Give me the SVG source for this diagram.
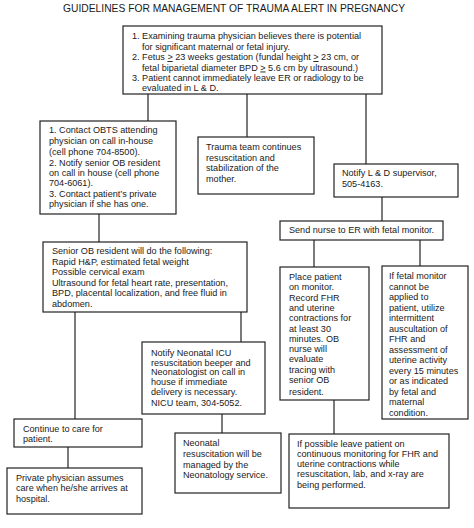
<svg xmlns="http://www.w3.org/2000/svg" width="474" height="528" viewBox="0 0 474 528">
<style>
.b{fill:#fff;stroke:#222;stroke-width:1.2}
.c{stroke:#222;stroke-width:1.2;fill:none}
text{font-family:"Liberation Sans",Arial,sans-serif;font-size:9.1px;fill:#1a1a1a}
.t{font-size:11px}
</style>
<rect width="474" height="528" fill="#fff"/>
<text class="t" x="63" y="12" textLength="342" lengthAdjust="spacingAndGlyphs">GUIDELINES FOR MANAGEMENT OF TRAUMA ALERT IN PREGNANCY</text>
<g id="connectors">
<line class="c" x1="148" y1="94" x2="148" y2="121"/>
<line class="c" x1="247" y1="94" x2="247" y2="137"/>
<line class="c" x1="366" y1="94" x2="366" y2="164"/>
<line class="c" x1="99" y1="214" x2="99" y2="242"/>
<line class="c" x1="382" y1="197" x2="382" y2="221"/>
<line class="c" x1="75" y1="312" x2="75" y2="419"/>
<line class="c" x1="241" y1="312" x2="241" y2="342"/>
<line class="c" x1="314" y1="240" x2="314" y2="267"/>
<line class="c" x1="420" y1="240" x2="420" y2="266"/>
<line class="c" x1="222" y1="414" x2="222" y2="433"/>
<line class="c" x1="68" y1="447" x2="68" y2="468"/>
<line class="c" x1="334" y1="400" x2="334" y2="434"/>
</g>
<g id="n1">
<rect class="b" x="123" y="26" width="259" height="68"/>
<text x="132" y="39">1. Examining trauma physician believes there is potential</text>
<text x="142" y="49.5">for significant maternal or fetal injury.</text>
<text x="132" y="60">2. Fetus <tspan text-decoration="underline">&gt;</tspan> 23 weeks gestation (fundal height <tspan text-decoration="underline">&gt;</tspan> 23 cm, or</text>
<text x="142" y="70.5">fetal biparietal diameter BPD <tspan text-decoration="underline">&gt;</tspan> 5.6 cm by ultrasound.)</text>
<text x="132" y="81">3. Patient cannot immediately leave ER or radiology to be</text>
<text x="142" y="91">evaluated in L &amp; D.</text>
</g>
<g id="n2">
<rect class="b" x="40" y="121" width="136" height="93"/>
<text x="49" y="133">1. Contact OBTS attending</text>
<text x="49" y="144">physician on call in-house</text>
<text x="49" y="155">(cell phone 704-8500).</text>
<text x="49" y="166">2. Notify senior OB resident</text>
<text x="49" y="176">on call in house (cell phone</text>
<text x="49" y="186">704-6061).</text>
<text x="49" y="196.5">3. Contact patient’s private</text>
<text x="49" y="206.5">physician if she has one.</text>
</g>
<g id="n3">
<rect class="b" x="198" y="137" width="116" height="57"/>
<text x="206" y="150">Trauma team continues</text>
<text x="206" y="160.5">resuscitation and</text>
<text x="206" y="171">stabilization of the</text>
<text x="206" y="181.5">mother.</text>
</g>
<g id="n4">
<rect class="b" x="334" y="164" width="124" height="33"/>
<text x="342" y="176">Notify L &amp; D supervisor,</text>
<text x="342" y="186.5">505-4163.</text>
</g>
<g id="n5">
<rect class="b" x="280" y="221" width="163" height="19"/>
<text x="289" y="233">Send nurse to ER with fetal monitor.</text>
</g>
<g id="n6">
<rect class="b" x="43" y="242" width="204" height="70"/>
<text x="52" y="254">Senior OB resident will do the following:</text>
<text x="52" y="264.5">Rapid H&amp;P, estimated fetal weight</text>
<text x="52" y="275">Possible cervical exam</text>
<text x="52" y="285.5">Ultrasound for fetal heart rate, presentation,</text>
<text x="52" y="296">BPD, placental localization, and free fluid in</text>
<text x="52" y="306.5">abdomen.</text>
</g>
<g id="n7">
<rect class="b" x="280" y="267" width="89" height="133"/>
<text x="289" y="280">Place patient</text>
<text x="289" y="290.3">on monitor.</text>
<text x="289" y="300.6">Record FHR</text>
<text x="289" y="310.9">and uterine</text>
<text x="289" y="321.2">contractions for</text>
<text x="289" y="331.5">at least 30</text>
<text x="289" y="341.8">minutes. OB</text>
<text x="289" y="352.1">nurse will</text>
<text x="289" y="362.4">evaluate</text>
<text x="289" y="372.7">tracing with</text>
<text x="289" y="383">senior OB</text>
<text x="289" y="395">resident.</text>
</g>
<g id="n8">
<rect class="b" x="382" y="266" width="86" height="153"/>
<text x="389" y="279">If fetal monitor</text>
<text x="389" y="289.5">cannot be</text>
<text x="389" y="300">applied to</text>
<text x="389" y="310.5">patient, utilize</text>
<text x="389" y="321">intermittent</text>
<text x="389" y="331.5">auscultation of</text>
<text x="389" y="342">FHR and</text>
<text x="389" y="352.5">assessment of</text>
<text x="389" y="363">uterine activity</text>
<text x="389" y="373.5">every 15 minutes</text>
<text x="389" y="384">or as indicated</text>
<text x="389" y="394.5">by fetal and</text>
<text x="389" y="405">maternal</text>
<text x="389" y="415.5">condition.</text>
</g>
<g id="n9">
<rect class="b" x="142" y="342" width="123" height="72"/>
<text x="151" y="356">Notify Neonatal ICU</text>
<text x="151" y="365.7">resuscitation beeper and</text>
<text x="151" y="375.4">Neonatologist on call in</text>
<text x="151" y="385.1">house if immediate</text>
<text x="151" y="394.8">delivery is necessary.</text>
<text x="151" y="405.5">NICU team, 304-5052.</text>
</g>
<g id="n10">
<rect class="b" x="14" y="419" width="128" height="28"/>
<text x="23" y="432">Continue to care for</text>
<text x="23" y="441.5">patient.</text>
</g>
<g id="n11">
<rect class="b" x="7" y="468" width="135" height="46"/>
<text x="16" y="481">Private physician assumes</text>
<text x="16" y="491">care when he/she arrives at</text>
<text x="16" y="501.5">hospital.</text>
</g>
<g id="n12">
<rect class="b" x="175" y="433" width="106" height="60"/>
<text x="183" y="446">Neonatal</text>
<text x="183" y="457">resuscitation will be</text>
<text x="183" y="467.5">managed by the</text>
<text x="183" y="478">Neonatology service.</text>
</g>
<g id="n13">
<rect class="b" x="289" y="434" width="160" height="74"/>
<text x="297" y="447">If possible leave patient on</text>
<text x="297" y="457">continuous monitoring for FHR and</text>
<text x="297" y="467">uterine  contractions while</text>
<text x="297" y="477">resuscitation, lab, and x-ray are</text>
<text x="297" y="488">being performed.</text>
</g>
</svg>
